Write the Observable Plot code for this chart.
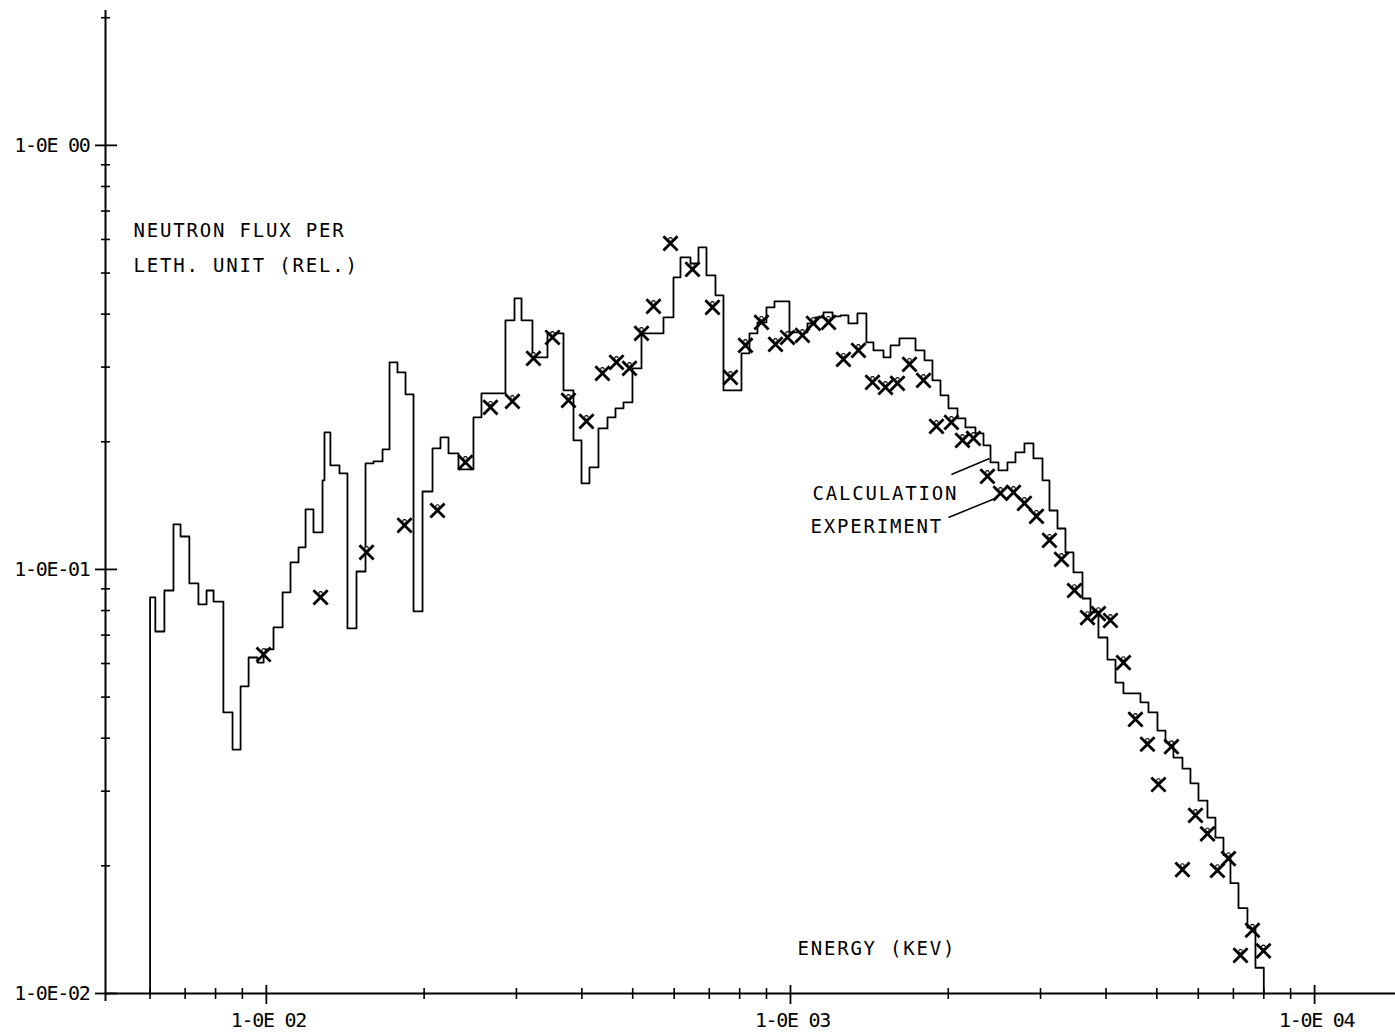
<!DOCTYPE html>
<html><head><meta charset="utf-8">
<script src="https://cdn.jsdelivr.net/npm/d3@7"></script>
<script src="https://cdn.jsdelivr.net/npm/@observablehq/plot@0.6"></script>
<style>
html,body{margin:0;padding:0;background:#fff;overflow:hidden;}
#chart svg{display:block;}
</style></head><body><div id="chart"></div>
<script>
// Calculation: group boundaries (keV) and flux per lethargy unit in each group
const binEdges = [60, 61.4, 63.9, 66.5, 68.6, 71.3, 74.2, 76.9, 79.3, 82.8,
  86.2, 89.3, 92.5, 96.2, 98.8, 103.2, 107.4, 111.2, 115.2, 118.8,
  123.0, 128.0, 129.1, 132.5, 137.9, 142.8, 148.6, 154.6, 160.1, 166.6,
  171.8, 177.9, 184.3, 190.9, 198.6, 207.5, 214.9, 222.6, 232.6, 248.4,
  257.3, 285.9, 297.5, 306.8, 321.9, 343.9, 368.9, 385.5, 399.3, 413.5,
  430.2, 447.6, 463.6, 480.2, 499.5, 519.7, 572.4, 598.1, 616.8, 644.5,
  667.6, 691.4, 719.3, 745.0, 806.3, 835.2, 865.0, 899.9, 932.1, 995.6,
  1077.5, 1116, 1156, 1203, 1246, 1290, 1342, 1396, 1440, 1505,
  1552, 1614, 1732, 1802, 1866, 1933, 2002, 2083, 2157, 2254,
  2335, 2408, 2494, 2594, 2687, 2795, 2908, 3026, 3120, 3232,
  3347, 3467, 3607, 3736, 3869, 4025, 4170, 4318, 4653, 4820,
  5014, 5194, 5379, 5596, 5796, 6004, 6246, 6469, 6701, 6910,
  7158, 7445, 7712, 8000];
const calcFlux = [0.0859, 0.0714, 0.0892, 0.1277, 0.1196, 0.0927, 0.0827, 0.0892, 0.0840, 0.0460,
  0.0376, 0.0530, 0.0620, 0.0603, 0.0648, 0.0730, 0.0883, 0.1039, 0.1127, 0.1385,
  0.1223, 0.1622, 0.2104, 0.1759, 0.1684, 0.0726, 0.0989, 0.1778, 0.1798, 0.1919,
  0.3078, 0.2915, 0.2586, 0.0796, 0.1527, 0.1930, 0.2048, 0.1878, 0.1721, 0.2283,
  0.2600, 0.3867, 0.4358, 0.3867, 0.3162, 0.3603, 0.2643, 0.2015, 0.1595, 0.1740,
  0.2150, 0.2283, 0.2398, 0.2477, 0.2979, 0.3603, 0.3930, 0.4883, 0.5443, 0.5268,
  0.5747, 0.4936, 0.4429, 0.2643, 0.3232, 0.3603, 0.3825, 0.4148, 0.4286, 0.3622,
  0.3804, 0.3930, 0.4037, 0.3950, 0.3972, 0.3804, 0.4015, 0.3430, 0.3285, 0.3162,
  0.3375, 0.3505, 0.3285, 0.3112, 0.2791, 0.2573, 0.2398, 0.2271, 0.2162, 0.2093,
  0.1961, 0.1788, 0.1712, 0.1788, 0.1888, 0.1983, 0.1827, 0.1622, 0.1377, 0.1249,
  0.1097, 0.0984, 0.0854, 0.0792, 0.0691, 0.0613, 0.0541, 0.0510, 0.0486, 0.0460,
  0.0417, 0.0391, 0.0360, 0.0339, 0.0313, 0.0285, 0.0260, 0.0233, 0.0212, 0.0182,
  0.0159, 0.0143, 0.0115];

// Experiment points
const expEnergy = [98.8, 126.9, 155.3, 183.5, 212.1, 239.8, 267.7, 294.8, 323.3, 351.5,
  377.1, 408.1, 437.8, 465.6, 493.0, 519.7, 547.8, 590.3, 650.2, 709.9,
  768.3, 820.6, 880.4, 936.3, 986.9, 1054, 1106, 1182, 1262, 1348,
  1434, 1518, 1600, 1687, 1794, 1899, 2028, 2129, 2234, 2376,
  2516, 2664, 2795, 2947, 3120, 3289, 3482, 3687, 3869, 4079,
  4318, 4552, 4799, 5332, 5036, 5925, 6246, 5596, 6526, 6850,
  7611, 7221, 7988];
const expFlux = [0.0630, 0.0859, 0.1097, 0.1270, 0.1377, 0.1788, 0.2411, 0.2490, 0.3145, 0.3524,
  0.2504, 0.2234, 0.2899, 0.3078, 0.2979, 0.3603, 0.4171, 0.5873, 0.5100, 0.4148,
  0.2837, 0.3375, 0.3825, 0.3393, 0.3524, 0.3564, 0.3804, 0.3825, 0.3129, 0.3285,
  0.2761, 0.2687, 0.2746, 0.3045, 0.2791, 0.2174, 0.2222, 0.2015, 0.2037, 0.1657,
  0.1511, 0.1519, 0.1431, 0.1334, 0.1171, 0.1056, 0.0892, 0.0770, 0.0787, 0.0758,
  0.0603, 0.0443, 0.0387, 0.0382, 0.0311, 0.0263, 0.0238, 0.0196, 0.0195, 0.0208,
  0.0141, 0.0123, 0.0126];

// Axes
const xMajorTicks = [100, 1000, 10000];
const xMajorLabels = ["1-0E 02", "1-0E 03", "1-0E 04"];
const xMinorTicks = [60, 70, 80, 90, 200, 300, 400, 500, 600, 700, 800, 900,
  2000, 3000, 4000, 5000, 6000, 7000, 8000, 9000];
const yMajorTicks = [0.01, 0.1, 1];
const yMajorLabels = ["1-0E-02", "1-0E-01", "1-0E 00"];
const yMinorTicks = [0.02, 0.03, 0.04, 0.05, 0.06, 0.07, 0.08, 0.09,
  0.2, 0.3, 0.4, 0.5, 0.6, 0.7, 0.8, 0.9, 2];
const xDomain = [49.33, 14268];
const yDomain = [0.01, 2.08];

// Annotation texts (anchored in data units)
const yTitle = [{E: 55.8, v: 0.627, t: "NEUTRON FLUX PER"}, {E: 55.8, v: 0.521, t: "LETH. UNIT (REL.)"}];
const xTitle = [{E: 1031, v: 0.01277, t: "ENERGY (KEV)"}];
const legendText = [{E: 1102, v: 0.1511, t: "CALCULATION"}, {E: 1092, v: 0.1263, t: "EXPERIMENT"}];
const leaders = [
  {E1: 2028, v1: 0.1675, E2: 2397, v2: 0.1827},
  {E1: 2002, v1: 0.1326, E2: 2483, v2: 0.1478}
];

// Build step line
const calc = [{E: binEdges[0], v: yDomain[0]}];
calcFlux.forEach((v, i) => calc.push({E: binEdges[i], v}));
calc.push({E: binEdges[binEdges.length - 1], v: calcFlux[calcFlux.length - 1]});
calc.push({E: binEdges[binEdges.length - 1], v: yDomain[0]});
const exp = expEnergy.map((E, i) => ({E, v: expFlux[i]}));

const font = "'DejaVu Sans Mono', monospace";
const svg = Plot.plot({
  width: 1395, height: 1035,
  marginLeft: 105, marginRight: 0, marginTop: 10, marginBottom: 42,
  style: {fontFamily: font, fontSize: "18px", background: "white", color: "black", overflow: "visible"},
  x: {type: "log", domain: xDomain, axis: null},
  y: {type: "log", domain: yDomain, axis: null},
  marks: [
    Plot.ruleY([yDomain[0]], {stroke: "black", strokeWidth: 2}),
    Plot.ruleX([xDomain[0]], {stroke: "black", strokeWidth: 2, insetBottom: -8}),
    Plot.ruleX(xMinorTicks, {x: d => d, y1: yDomain[0], y2: yDomain[0], insetTop: -5, insetBottom: -6, stroke: "black", strokeWidth: 1.6}),
    Plot.ruleX(xMajorTicks, {x: d => d, y1: yDomain[0], y2: yDomain[0], insetTop: -8, insetBottom: -11, stroke: "black", strokeWidth: 1.8}),
    Plot.ruleY(yMinorTicks, {y: d => d, x1: xDomain[0], x2: xDomain[0], insetLeft: -4, insetRight: -5, stroke: "black", strokeWidth: 1.6}),
    Plot.ruleY(yMajorTicks, {y: d => d, x1: xDomain[0], x2: xDomain[0], insetLeft: -10, insetRight: -12, stroke: "black", strokeWidth: 1.8}),
    Plot.text(xMajorTicks, {x: d => d, y: () => yDomain[0], text: (d, i) => xMajorLabels[i], dy: 27, dx: 2, textAnchor: "middle", fontSize: 20}),
    Plot.text(yMajorTicks, {x: () => xDomain[0], y: d => d, text: (d, i) => yMajorLabels[i], dx: -16, textAnchor: "end", fontSize: 20}),
    Plot.line(calc, {x: "E", y: "v", curve: "step-after", stroke: "black", strokeWidth: 1.8}),
    Plot.dot(exp, {x: "E", y: "v", symbol: "times", r: 6.5, stroke: "black", strokeWidth: 2.8}),
    Plot.dot(exp, {x: "E", y: "v", r: 1.8, stroke: "black", fill: "white", strokeWidth: 1.1, dy: -4}),
    Plot.link(leaders, {x1: "E1", y1: "v1", x2: "E2", y2: "v2", stroke: "black", strokeWidth: 1.5}),
    Plot.text(yTitle, {x: "E", y: "v", text: "t", textAnchor: "start", fontSize: 19}),
    Plot.text(xTitle, {x: "E", y: "v", text: "t", textAnchor: "start", fontSize: 19}),
    Plot.text(legendText, {x: "E", y: "v", text: "t", textAnchor: "start", fontSize: 19})
  ]
});
d3.select(svg).selectAll("text").each(function() {
  const s = this.textContent || "";
  this.setAttribute("letter-spacing", s.startsWith("1-0E") ? "-1.3" : "1.8");
  this.querySelectorAll("tspan").forEach(t => t.setAttribute("letter-spacing", s.startsWith("1-0E") ? "-1.3" : "1.8"));
});
document.getElementById("chart").appendChild(svg);
</script>
</body></html>
